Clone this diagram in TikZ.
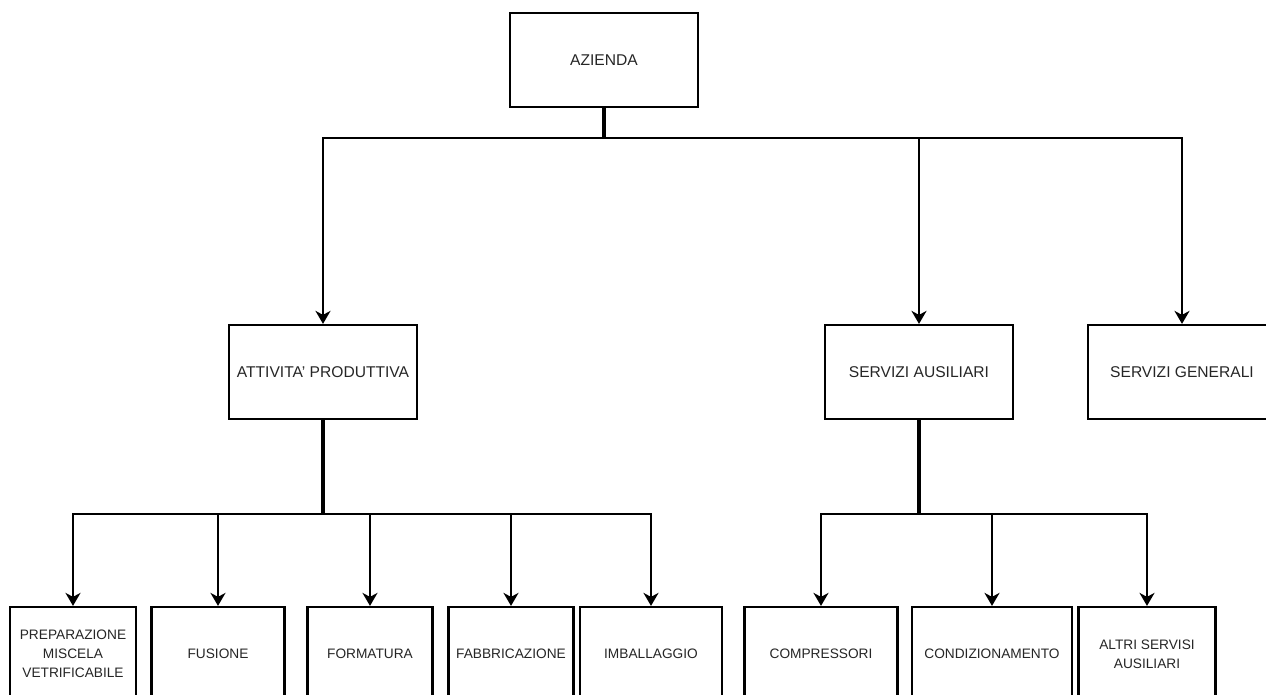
\documentclass[tikz,border=0pt]{standalone}
\usepackage{fontspec}
\setmainfont{Liberation Sans}
\usetikzlibrary{arrows.meta}
\begin{document}
\begin{tikzpicture}[x=1pt,y=-1pt,
  box/.style={draw, line width=2.2pt, inner sep=0pt, align=center, text=black!85},
  big/.style={box, minimum width=188pt, minimum height=94pt, font=\fontsize{15.6}{19}\selectfont},
  small/.style={box, minimum height=94pt, font=\fontsize{13.7}{19}\selectfont},
  conn/.style={line width=2.2pt, -{Stealth[length=13pt,width=15pt,inset=4pt]}},
  trunk/.style={line width=3.2pt}]
\clip (0,0) rectangle (1266,695);
\fill[white] (0,0) rectangle (1266,695);
% top level
\node[big] (az) at (604,60) {AZIENDA};
% second level
\node[big] (att) at (323,372) {ATTIVITA' PRODUTTIVA};
\node[big] (sa) at (919,372) {SERVIZI AUSILIARI};
\node[big] (sg) at (1182,372) {SERVIZI GENERALI};
% third level
\node[small, minimum width=126pt] (p1) at (73,654) {PREPARAZIONE\\MISCELA\\VETRIFICABILE};
\node[small, minimum width=133pt] (p2) at (218,654) {FUSIONE};
\node[small, minimum width=125pt] (p3) at (370,654) {FORMATURA};
\node[small, minimum width=125pt] (p4) at (511,654) {FABBRICAZIONE};
\node[small, minimum width=142pt] (p5) at (651,654) {IMBALLAGGIO};
\node[small, minimum width=153pt] (s1) at (821,654) {COMPRESSORI};
\node[small, minimum width=160pt] (s2) at (992,654) {CONDIZIONAMENTO};
\node[small, minimum width=137pt] (s3) at (1147,654) {ALTRI SERVISI\\AUSILIARI};
% junctions
\coordinate (j1) at (604,138);
\coordinate (j2) at (323,514);
\coordinate (j3) at (919,514);
% connectors
\draw[trunk] (az.south) -- (j1);
\draw[conn] (j1) -| (att.north);
\draw[conn] (j1) -| (sa.north);
\draw[conn] (j1) -| (sg.north);
\draw[trunk] (att.south) -- (j2);
\foreach \n in {p1,p2,p3,p4,p5} \draw[conn] (j2) -| (\n.north);
\draw[trunk] (sa.south) -- (j3);
\foreach \n in {s1,s2,s3} \draw[conn] (j3) -| (\n.north);
\end{tikzpicture}
\end{document}
